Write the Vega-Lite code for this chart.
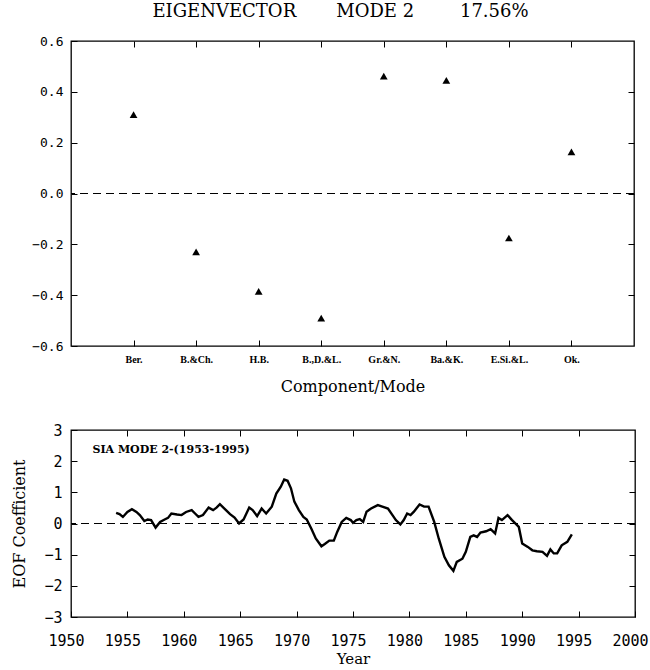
{
  "$schema": "https://vega.github.io/schema/vega-lite/v6.json",
  "background": "white",
  "padding": {"left": 11, "top": 2, "right": 0, "bottom": 0},
  "spacing": 27,
  "config": {
    "view": {"stroke": "black", "strokeWidth": 1.3},
    "axis": {"domain": false, "grid": false, "tickColor": "black", "tickSize": -6, "tickWidth": 1, "labelColor": "black", "titleColor": "black", "labelFlush": false, "labelOverlap": false}
  },
  "vconcat": [
    {
      "width": 563,
      "height": 305,
      "title": {"text": "EIGENVECTOR\u00a0\u00a0\u00a0\u00a0\u00a0\u00a0\u00a0MODE 2\u00a0\u00a0\u00a0\u00a0\u00a0\u00a0\u00a0\u00a017.56%", "font": "DejaVu Serif", "fontSize": 18, "fontWeight": "normal", "color": "black", "offset": 14, "anchor": "middle", "dx": -12},
      "data": {"values": [
        {"station": "Ber.", "loading": 0.31},
        {"station": "B.&Ch.", "loading": -0.23},
        {"station": "H.B.", "loading": -0.385},
        {"station": "B.,D.&L.", "loading": -0.49},
        {"station": "Gr.&N.", "loading": 0.462},
        {"station": "Ba.&K.", "loading": 0.445},
        {"station": "E.Si.&L.", "loading": -0.175},
        {"station": "Ok.", "loading": 0.164}
      ]},
      "layer": [
        {
          "data": {"values": [{}]},
          "mark": {"type": "rule", "strokeDash": [8, 5], "color": "black", "strokeWidth": 1.2},
          "encoding": {"y": {"datum": 0, "type": "quantitative", "axis": null}}
        },
        {
          "mark": {"type": "point", "shape": "triangle-up", "filled": true, "color": "black", "size": 60, "opacity": 1},
          "encoding": {
            "x": {"field": "station", "type": "nominal", "sort": null, "scale": {"type": "point", "padding": 1},
              "axis": {"orient": "bottom", "title": "Component/Mode", "labelAngle": 0, "labelFont": "Liberation Serif", "labelFontSize": 10, "labelFontWeight": "bold", "labelPadding": 14, "titleFont": "DejaVu Serif", "titleFontSize": 16, "titleFontWeight": "normal", "titlePadding": 14}},
            "y": {"field": "loading", "type": "quantitative", "scale": {"domain": [-0.6, 0.6], "nice": false, "zero": false},
              "axis": {"orient": "left", "values": [-0.6, -0.4, -0.2, 0, 0.2, 0.4, 0.6], "format": ".1f", "title": null, "labelFont": "DejaVu Sans Mono", "labelFontSize": 13, "labelPadding": 14}}
          }
        },
        {
          "mark": {"type": "point", "shape": "triangle-up", "opacity": 0},
          "encoding": {
            "x": {"field": "station", "type": "nominal", "sort": null, "axis": {"orient": "top", "labels": false, "title": null}},
            "y": {"field": "loading", "type": "quantitative", "axis": {"orient": "right", "labels": false, "title": null, "values": [-0.4, -0.2, 0, 0.2, 0.4]}}
          }
        }
      ],
      "resolve": {"axis": {"x": "independent", "y": "independent"}}
    },
    {
      "width": 564,
      "height": 187,
      "data": {"values": [
        {"year": 1954.0, "coef": 0.34}, {"year": 1954.3, "coef": 0.30}, {"year": 1954.6, "coef": 0.21},
        {"year": 1955.0, "coef": 0.37}, {"year": 1955.4, "coef": 0.46}, {"year": 1955.8, "coef": 0.37},
        {"year": 1956.1, "coef": 0.27}, {"year": 1956.5, "coef": 0.08}, {"year": 1956.8, "coef": 0.13},
        {"year": 1957.1, "coef": 0.11}, {"year": 1957.5, "coef": -0.13}, {"year": 1957.9, "coef": 0.05},
        {"year": 1958.3, "coef": 0.13}, {"year": 1958.6, "coef": 0.18}, {"year": 1958.9, "coef": 0.32},
        {"year": 1959.4, "coef": 0.29}, {"year": 1959.8, "coef": 0.27}, {"year": 1960.2, "coef": 0.37},
        {"year": 1960.7, "coef": 0.43}, {"year": 1961.0, "coef": 0.32}, {"year": 1961.3, "coef": 0.21},
        {"year": 1961.7, "coef": 0.27}, {"year": 1962.2, "coef": 0.51}, {"year": 1962.6, "coef": 0.43},
        {"year": 1962.9, "coef": 0.51}, {"year": 1963.2, "coef": 0.62}, {"year": 1963.6, "coef": 0.48},
        {"year": 1964.1, "coef": 0.30}, {"year": 1964.5, "coef": 0.19}, {"year": 1964.9, "coef": 0.0},
        {"year": 1965.3, "coef": 0.13}, {"year": 1965.8, "coef": 0.51}, {"year": 1966.1, "coef": 0.43},
        {"year": 1966.5, "coef": 0.24}, {"year": 1966.9, "coef": 0.48}, {"year": 1967.3, "coef": 0.32},
        {"year": 1967.8, "coef": 0.54}, {"year": 1968.2, "coef": 0.96}, {"year": 1968.6, "coef": 1.18},
        {"year": 1968.9, "coef": 1.41}, {"year": 1969.2, "coef": 1.37}, {"year": 1969.5, "coef": 1.13},
        {"year": 1969.8, "coef": 0.70}, {"year": 1970.2, "coef": 0.43}, {"year": 1970.6, "coef": 0.21},
        {"year": 1970.9, "coef": 0.13}, {"year": 1971.3, "coef": -0.16}, {"year": 1971.7, "coef": -0.48},
        {"year": 1972.2, "coef": -0.73}, {"year": 1972.5, "coef": -0.66}, {"year": 1972.9, "coef": -0.55},
        {"year": 1973.3, "coef": -0.55}, {"year": 1973.6, "coef": -0.27}, {"year": 1974.0, "coef": 0.05},
        {"year": 1974.4, "coef": 0.18}, {"year": 1974.8, "coef": 0.11}, {"year": 1975.0, "coef": 0.02},
        {"year": 1975.3, "coef": 0.11}, {"year": 1975.6, "coef": 0.14}, {"year": 1975.9, "coef": 0.05},
        {"year": 1976.2, "coef": 0.38}, {"year": 1976.6, "coef": 0.48}, {"year": 1977.2, "coef": 0.59},
        {"year": 1977.6, "coef": 0.54}, {"year": 1978.1, "coef": 0.48}, {"year": 1978.5, "coef": 0.27},
        {"year": 1978.8, "coef": 0.11}, {"year": 1979.2, "coef": -0.03}, {"year": 1979.5, "coef": 0.11},
        {"year": 1979.8, "coef": 0.32}, {"year": 1980.1, "coef": 0.27}, {"year": 1980.4, "coef": 0.38},
        {"year": 1980.9, "coef": 0.61}, {"year": 1981.3, "coef": 0.54}, {"year": 1981.7, "coef": 0.54},
        {"year": 1982.2, "coef": 0.05}, {"year": 1982.6, "coef": -0.48}, {"year": 1983.1, "coef": -1.07},
        {"year": 1983.5, "coef": -1.34}, {"year": 1983.9, "coef": -1.52}, {"year": 1984.2, "coef": -1.23},
        {"year": 1984.7, "coef": -1.13}, {"year": 1985.0, "coef": -0.91}, {"year": 1985.4, "coef": -0.43},
        {"year": 1985.7, "coef": -0.38}, {"year": 1986.0, "coef": -0.43}, {"year": 1986.3, "coef": -0.29},
        {"year": 1986.8, "coef": -0.25}, {"year": 1987.2, "coef": -0.18}, {"year": 1987.6, "coef": -0.32},
        {"year": 1987.9, "coef": 0.18}, {"year": 1988.2, "coef": 0.11}, {"year": 1988.7, "coef": 0.27},
        {"year": 1989.1, "coef": 0.11}, {"year": 1989.7, "coef": -0.11}, {"year": 1990.0, "coef": -0.64},
        {"year": 1990.5, "coef": -0.75}, {"year": 1990.9, "coef": -0.86}, {"year": 1991.3, "coef": -0.89},
        {"year": 1991.8, "coef": -0.91}, {"year": 1992.2, "coef": -1.04}, {"year": 1992.5, "coef": -0.83},
        {"year": 1992.8, "coef": -0.96}, {"year": 1993.1, "coef": -0.96}, {"year": 1993.5, "coef": -0.70},
        {"year": 1994.0, "coef": -0.59}, {"year": 1994.4, "coef": -0.35}
      ]},
      "layer": [
        {
          "data": {"values": [{}]},
          "mark": {"type": "rule", "strokeDash": [8, 5], "color": "black", "strokeWidth": 1.2},
          "encoding": {"y": {"datum": 0, "type": "quantitative", "axis": null}}
        },
        {
          "mark": {"type": "line", "color": "black", "strokeWidth": 2.4},
          "encoding": {
            "x": {"field": "year", "type": "quantitative", "scale": {"domain": [1950, 2000], "nice": false, "zero": false},
              "axis": {"orient": "bottom", "values": [1950, 1955, 1960, 1965, 1970, 1975, 1980, 1985, 1990, 1995, 2000], "format": "d", "title": "Year", "labelFont": "DejaVu Sans Mono", "labelFontSize": 15, "labelPadding": 22, "labelOffset": -5, "titleFont": "DejaVu Serif", "titleFontSize": 15, "titleFontWeight": "normal", "titlePadding": 3}},
            "y": {"field": "coef", "type": "quantitative", "scale": {"domain": [-3, 3], "nice": false},
              "axis": {"orient": "left", "values": [-3, -2, -1, 0, 1, 2, 3], "title": "EOF Coefficient", "labelFont": "DejaVu Sans Mono", "labelFontSize": 15, "labelPadding": 15, "titleFont": "DejaVu Serif", "titleFontSize": 16, "titleFontWeight": "normal", "titlePadding": 16}}
          }
        },
        {
          "mark": {"type": "line", "opacity": 0},
          "encoding": {
            "x": {"field": "year", "type": "quantitative", "axis": {"orient": "top", "labels": false, "title": null, "values": [1955, 1960, 1965, 1970, 1975, 1980, 1985, 1990, 1995]}},
            "y": {"field": "coef", "type": "quantitative", "axis": {"orient": "right", "labels": false, "title": null, "values": [-2, -1, 0, 1, 2]}}
          }
        },
        {
          "data": {"values": [{}]},
          "mark": {"type": "text", "text": "SIA MODE 2-(1953-1995)", "align": "left", "baseline": "middle", "font": "DejaVu Serif", "fontSize": 11, "fontWeight": "bold", "color": "black"},
          "encoding": {
            "x": {"datum": 1951.9, "type": "quantitative", "axis": null},
            "y": {"datum": 2.35, "type": "quantitative", "axis": null}
          }
        }
      ],
      "resolve": {"axis": {"x": "independent", "y": "independent"}}
    }
  ]
}
